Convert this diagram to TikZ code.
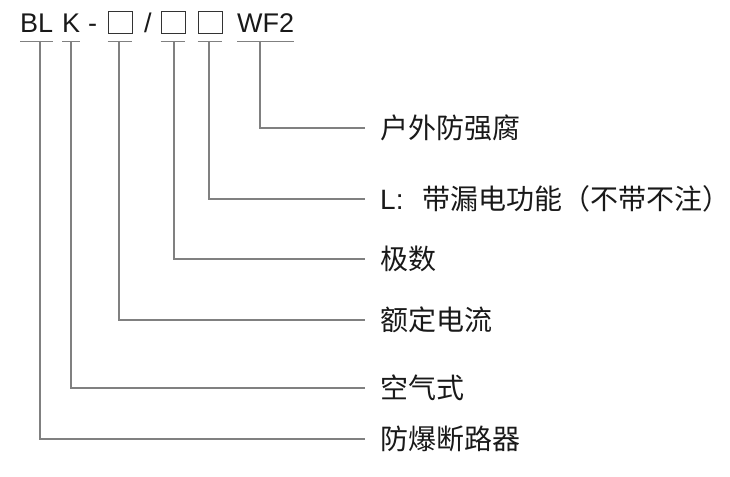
\documentclass[tikz,border=0pt]{standalone}
\usepackage{fontspec}
\setmainfont{Liberation Sans}
\newfontfamily\cjk{Noto Sans CJK SC}
\newcommand\codesize{\fontsize{27}{30}\selectfont}
\newcommand\descsize{\fontsize{28}{32}\selectfont}
\tikzset{
  code/.style={font=\codesize, inner sep=0pt, anchor=base west, text=black!90},
  slot/.style={draw=black!80, line width=0.9pt, minimum width=24pt, minimum height=22pt, inner sep=0pt},
  lead/.style={draw=black!50, line width=1.1pt},
  desc/.style={font=\cjk\descsize, anchor=west, inner sep=0pt, text=black!90},
}
\begin{document}
\begin{tikzpicture}[x=1pt,y=-1pt]
\useasboundingbox (0,0) rectangle (730,476);
% model code
\node[code] (bl) at (20,33) {BL};
\node[code] (k) at (62,33) {K};
\node[code] (dash) at (88,33) {-};
\node[slot] (s1) at (120,22) {};
\node[code] (slash) at (144,33) {/};
\node[slot] (s2) at (173,22) {};
\node[slot] (s3) at (210,22) {};
\node[code] (wf) at (237,33) {WF2};
\foreach \p in {bl,k,s1,s2,s3,wf}
  \draw[lead] ([yshift=-8pt]\p.south west) -- ([yshift=-8pt]\p.south east);
% meanings
\node[desc] (d6) at (380,128) {户外防强腐};
\node[desc] (d5) at (380,199) {{\rmfamily L:}\hspace{19pt}带漏电功能（不带不注）};
\node[desc] (d4) at (380,259) {极数};
\node[desc] (d3) at (380,320) {额定电流};
\node[desc] (d2) at (380,388) {空气式};
\node[desc] (d1) at (380,439) {防爆断路器};
% taps under the code
\coordinate (t1) at (40,41);
\coordinate (t2) at (71,41);
\coordinate (t3) at (119,41);
\coordinate (t4) at (174,41);
\coordinate (t5) at (209,41);
\coordinate (t6) at (260,41);
\draw[lead] (t1) |- ([xshift=-15pt]d1.west);
\draw[lead] (t2) |- ([xshift=-15pt]d2.west);
\draw[lead] (t3) |- ([xshift=-15pt]d3.west);
\draw[lead] (t4) |- ([xshift=-15pt]d4.west);
\draw[lead] (t5) |- ([xshift=-15pt]d5.west);
\draw[lead] (t6) |- ([xshift=-15pt]d6.west);
\end{tikzpicture}
\end{document}
